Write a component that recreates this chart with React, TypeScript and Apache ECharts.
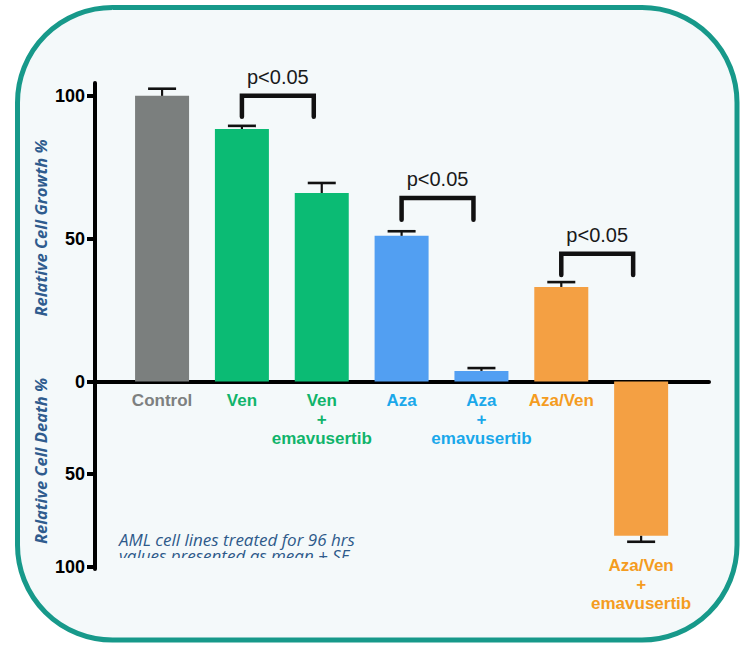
import React, { useEffect, useRef } from 'react';
import * as echarts from 'echarts';

const categories = ['Control', 'Ven', 'Ven\n+\nemavusertib', 'Aza', 'Aza\n+\nemavusertib', 'Aza/Ven', 'Aza/Ven\n+\nemavusertib'];
const labelTone = ['gray', 'green', 'green', 'blue', 'blue', 'orange', 'orange'];
const barColors = ['#7b7f7e', '#0bbb74', '#0bbb74', '#529ff2', '#529ff2', '#f4a043', '#f4a043'];
const growth: (number | null)[] = [100, 88.4, 66.0, 51.0, 3.7, 33.1, null];
const growthSE: (number | null)[] = [2.5, 1.1, 3.5, 1.6, 1.0, 1.7, null];
const death: (number | null)[] = [null, null, null, null, null, null, 83.3];
const deathSE: (number | null)[] = [null, null, null, null, null, null, 3.2];
const growthTicks = [0, 50, 100];
const deathTicks = [50, 100];
const bracketPairs = [[1, 2], [3, 4], [5, 6]];
const bracketTop = [100, 64.2, 44.7];
const bracketLeg = [92.7, 56.6, 37.3];
const pLabels = ['p<0.05', 'p<0.05', 'p<0.05'];

const toneColor: Record<string, string> = {
  gray: '#7d8080',
  green: '#10b46b',
  blue: '#1aa8ea',
  orange: '#f49c1f',
};

const rich: Record<string, any> = {};
Object.keys(toneColor).forEach((k) => {
  rich[k] = {
    color: toneColor[k],
    fontFamily: 'Liberation Sans',
    fontWeight: 'bold',
    fontSize: 17,
    lineHeight: 19,
    align: 'center',
  };
});

function toRich(text: string, tone: string) {
  return text
    .split('\n')
    .map((line) => `{${tone}|${line}}`)
    .join('\n');
}

const X_MIN = -0.84;
const X_MAX = 6.85;

export default function App() {
  const ref = useRef<HTMLDivElement>(null);
  useEffect(() => {
    if (!ref.current) return;
    const chart = echarts.init(ref.current, undefined, { renderer: 'svg' });

    const growthBars = growth
      .map((v, i) => (v == null ? null : { value: [i, v], itemStyle: { color: barColors[i] } }))
      .filter((d) => d != null);
    const deathBars = death
      .map((v, i) =>
        v == null
          ? null
          : {
              value: [i, v],
              itemStyle: { color: barColors[i] },
              label: {
                show: true,
                position: 'bottom',
                distance: 20,
                formatter: toRich(categories[i], labelTone[i]),
                rich,
              },
            }
      )
      .filter((d) => d != null);
    const growthErr = growth
      .map((v, i) => (v == null ? null : [i, v, v + (growthSE[i] as number)]))
      .filter((d) => d != null);
    const deathErr = death
      .map((v, i) => (v == null ? null : [i, v, v + (deathSE[i] as number)]))
      .filter((d) => d != null);

    const errRender = (params: any, api: any) => {
      const x = api.value(0);
      const p0 = api.coord([x, api.value(1)]);
      const p1 = api.coord([x, api.value(2)]);
      return {
        type: 'group',
        children: [
          { type: 'line', shape: { x1: p0[0], y1: p0[1], x2: p1[0], y2: p1[1] }, style: { stroke: '#111', lineWidth: 2.2 } },
          { type: 'line', shape: { x1: p1[0] - 14, y1: p1[1], x2: p1[0] + 14, y2: p1[1] }, style: { stroke: '#111', lineWidth: 2.6 } },
        ],
      };
    };

    const bracketData = bracketPairs.map((p, i) => [p[0], p[1], bracketTop[i], bracketLeg[i]]);

    const xAxisBase = {
      type: 'value',
      min: X_MIN,
      max: X_MAX,
      splitLine: { show: false },
      axisTick: { show: false },
    };

    const catLabel = (values: number[]) => ({
      show: true,
      margin: 9,
      hideOverlap: false,
      verticalAlign: 'top',
      customValues: values,
      formatter: (v: number) => {
        const i = Math.round(v);
        return toRich(categories[i], labelTone[i]);
      },
      rich,
    });

    const yAxisBase = {
      type: 'value',
      min: 0,
      splitLine: { show: false },
      axisLine: { show: true, onZero: false, lineStyle: { color: '#000', width: 4 } },
      axisTick: { show: true, length: 8, lineStyle: { color: '#000', width: 4 } },
      axisLabel: {
        show: true,
        margin: 10,
        color: '#000',
        fontFamily: 'Liberation Sans',
        fontWeight: 'bold',
        fontSize: 18,
      },
    };

    chart.setOption({
      animation: false,
      backgroundColor: '#ffffff',
      graphic: [
        {
          type: 'rect',
          z: -10,
          shape: { x: 17.5, y: 7.5, width: 719.5, height: 632.5, r: 95 },
          style: { fill: '#f4f9fa', stroke: '#17998a', lineWidth: 5 },
        },
        {
          type: 'text',
          x: 40,
          y: 228,
          rotation: Math.PI / 2,
          style: {
            text: 'Relative Cell Growth %',
            textAlign: 'center',
            textVerticalAlign: 'middle',
            font: 'italic bold 16.5px "Open Sans"',
            fill: '#2f5c8e',
          },
        },
        {
          type: 'text',
          x: 40,
          y: 461,
          rotation: Math.PI / 2,
          style: {
            text: 'Relative Cell Death %',
            textAlign: 'center',
            textVerticalAlign: 'middle',
            font: 'italic bold 16.5px "Open Sans"',
            fill: '#2f5c8e',
          },
        },
        {
          type: 'text',
          x: 119,
          y: 531,
          z: 1,
          style: {
            text: 'AML cell lines treated for 96 hrs\nvalues presented as mean \u00b1 SE',
            font: 'italic 17px "Open Sans"',
            textVerticalAlign: 'top',
            lineHeight: 16.5,
            fill: '#2e5a8a',
          },
        },
        {
          type: 'rect',
          z: 2,
          shape: { x: 110, y: 558, width: 300, height: 20 },
          style: { fill: '#f4f9fa' },
        },
      ],
      grid: [
        { left: 95, right: 35, top: 83, height: 298.5 },
        { left: 95, right: 35, top: 381.5, height: 187.5 },
      ],
      xAxis: [
        {
          ...xAxisBase,
          gridIndex: 0,
          position: 'bottom',
          axisLine: { show: true, onZero: false, lineStyle: { color: '#000', width: 4, cap: 'round' } },
          axisLabel: catLabel([0, 2, 4]),
        },
        {
          ...xAxisBase,
          gridIndex: 1,
          axisLine: { show: false },
          axisLabel: { show: false },
        },
        {
          ...xAxisBase,
          gridIndex: 0,
          position: 'bottom',
          offset: 0,
          axisLine: { show: false, onZero: false },
          axisLabel: catLabel([1, 3, 5]),
        },
      ],
      yAxis: [
        {
          ...yAxisBase,
          gridIndex: 0,
          max: 104.5,
          axisTick: { ...yAxisBase.axisTick, customValues: growthTicks },
          axisLabel: { ...yAxisBase.axisLabel, customValues: growthTicks },
        },
        {
          ...yAxisBase,
          gridIndex: 1,
          max: 101.2,
          inverse: true,
          axisTick: { ...yAxisBase.axisTick, customValues: deathTicks },
          axisLabel: { ...yAxisBase.axisLabel, customValues: deathTicks },
        },
      ],
      series: [
        {
          type: 'bar',
          xAxisIndex: 0,
          yAxisIndex: 0,
          barWidth: 54,
          data: growthBars,
          z: 1,
        },
        {
          type: 'bar',
          xAxisIndex: 1,
          yAxisIndex: 1,
          barWidth: 54,
          data: deathBars,
          z: 1,
        },
        {
          type: 'custom',
          xAxisIndex: 0,
          yAxisIndex: 0,
          clip: false,
          data: growthErr,
          renderItem: errRender,
          z: 3,
        },
        {
          type: 'custom',
          xAxisIndex: 1,
          yAxisIndex: 1,
          clip: false,
          data: deathErr,
          renderItem: errRender,
          z: 3,
        },
        {
          type: 'custom',
          xAxisIndex: 0,
          yAxisIndex: 0,
          clip: false,
          data: bracketData,
          z: 3,
          renderItem: (params: any, api: any) => {
            const l = api.value(0);
            const r = api.value(1) - 0.1;
            const top = api.value(2);
            const leg = api.value(3);
            const p1 = api.coord([l, leg]);
            const p2 = api.coord([l, top]);
            const p3 = api.coord([r, top]);
            const p4 = api.coord([r, leg]);
            return {
              type: 'group',
              children: [
                {
                  type: 'polyline',
                  shape: { points: [p1, p2, p3, p4] },
                  style: { stroke: '#111', lineWidth: 4.5, fill: 'none', lineCap: 'round', lineJoin: 'miter' },
                },
                {
                  type: 'text',
                  style: {
                    text: pLabels[params.dataIndex],
                    x: (p2[0] + p3[0]) / 2,
                    y: p2[1] - 19,
                    textAlign: 'center',
                    textVerticalAlign: 'middle',
                    font: '20px "Liberation Sans"',
                    fill: '#1a1a1a',
                  },
                },
              ],
            };
          },
        },
      ],
    });
    return () => chart.dispose();
  }, []);
  return <div ref={ref} style={{ position: 'absolute', left: 0, top: 0, width: 744, height: 646 }} />;
}
